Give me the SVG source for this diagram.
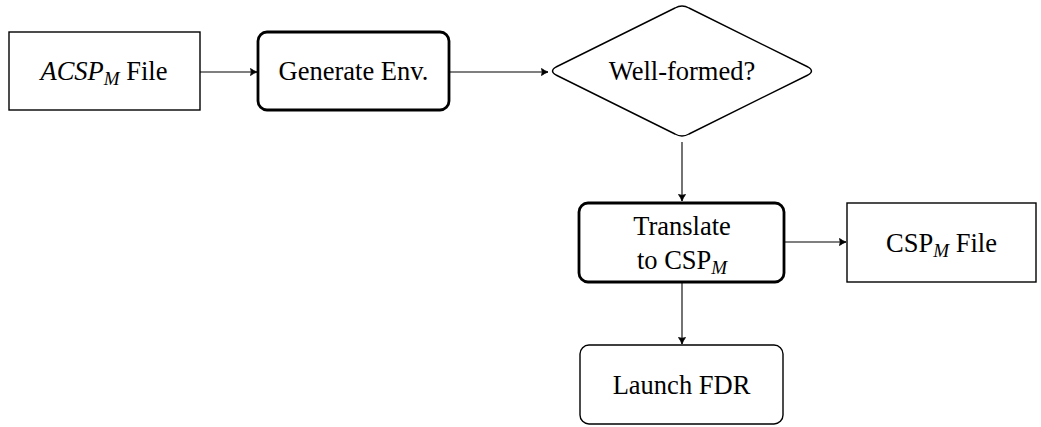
<svg xmlns="http://www.w3.org/2000/svg" width="1041" height="427" viewBox="0 0 1041 427">
<style>
.t{font-family:"Liberation Serif","DejaVu Serif",serif;font-size:26.5px;fill:#000;text-anchor:middle}
.thin{fill:#fff;stroke:#000;stroke-width:1.4}
.thick{fill:#fff;stroke:#000;stroke-width:2.8}
.sub{font-size:19px;font-style:italic}
.c{stroke:#000;stroke-width:1.1;fill:none;marker-end:url(#ah)}
</style>
<defs>
<marker id="ah" markerWidth="10" markerHeight="10" refX="8" refY="5" orient="auto" markerUnits="userSpaceOnUse">
<path d="M1.5,1.5 Q5,4 8,5 Q5,6 1.5,8.5 Q3,5 1.5,1.5 Z" fill="#000" stroke="#000" stroke-width="0.8" stroke-linejoin="round"/>
</marker>
</defs>
<g id="connectors">
<line class="c" x1="200" y1="72" x2="257" y2="72"/>
<line class="c" x1="450" y1="72" x2="548" y2="72"/>
<line class="c" x1="682" y1="142" x2="682" y2="201"/>
<line class="c" x1="785" y1="242" x2="846" y2="242"/>
<line class="c" x1="682" y1="283" x2="682" y2="344"/>
</g>
<g id="acsp">
<rect class="thin" x="9" y="32" width="191" height="78"/>
<text class="t" x="104" y="80"><tspan font-style="italic">ACSP</tspan><tspan class="sub" dy="5">M</tspan><tspan dy="-5"> File</tspan></text>
</g>
<g id="genenv">
<rect class="thick" x="258" y="32" width="191" height="78" rx="9"/>
<text class="t" x="353.5" y="80">Generate Env.</text>
</g>
<g id="wellformed">
<path class="thin" d="M675,8 Q682,4 689,8 L808,67 Q815,71 808,75 L689,134 Q682,138 675,134 L556,75 Q549,71 556,67 Z" stroke-linejoin="round"/>
<text class="t" x="682" y="80">Well-formed?</text>
</g>
<g id="translate">
<rect class="thick" x="579" y="203" width="205" height="79" rx="9"/>
<text class="t" x="682" y="235">Translate</text>
<text class="t" x="682" y="269">to CSP<tspan class="sub" dy="5">M</tspan></text>
</g>
<g id="cspfile">
<rect class="thin" x="847" y="203" width="189" height="79"/>
<text class="t" x="941.5" y="252">CSP<tspan class="sub" dy="5">M</tspan><tspan dy="-5"> File</tspan></text>
</g>
<g id="fdr">
<rect class="thin" x="580" y="345" width="203" height="79" rx="9"/>
<text class="t" x="681.5" y="394">Launch FDR</text>
</g>
</svg>
